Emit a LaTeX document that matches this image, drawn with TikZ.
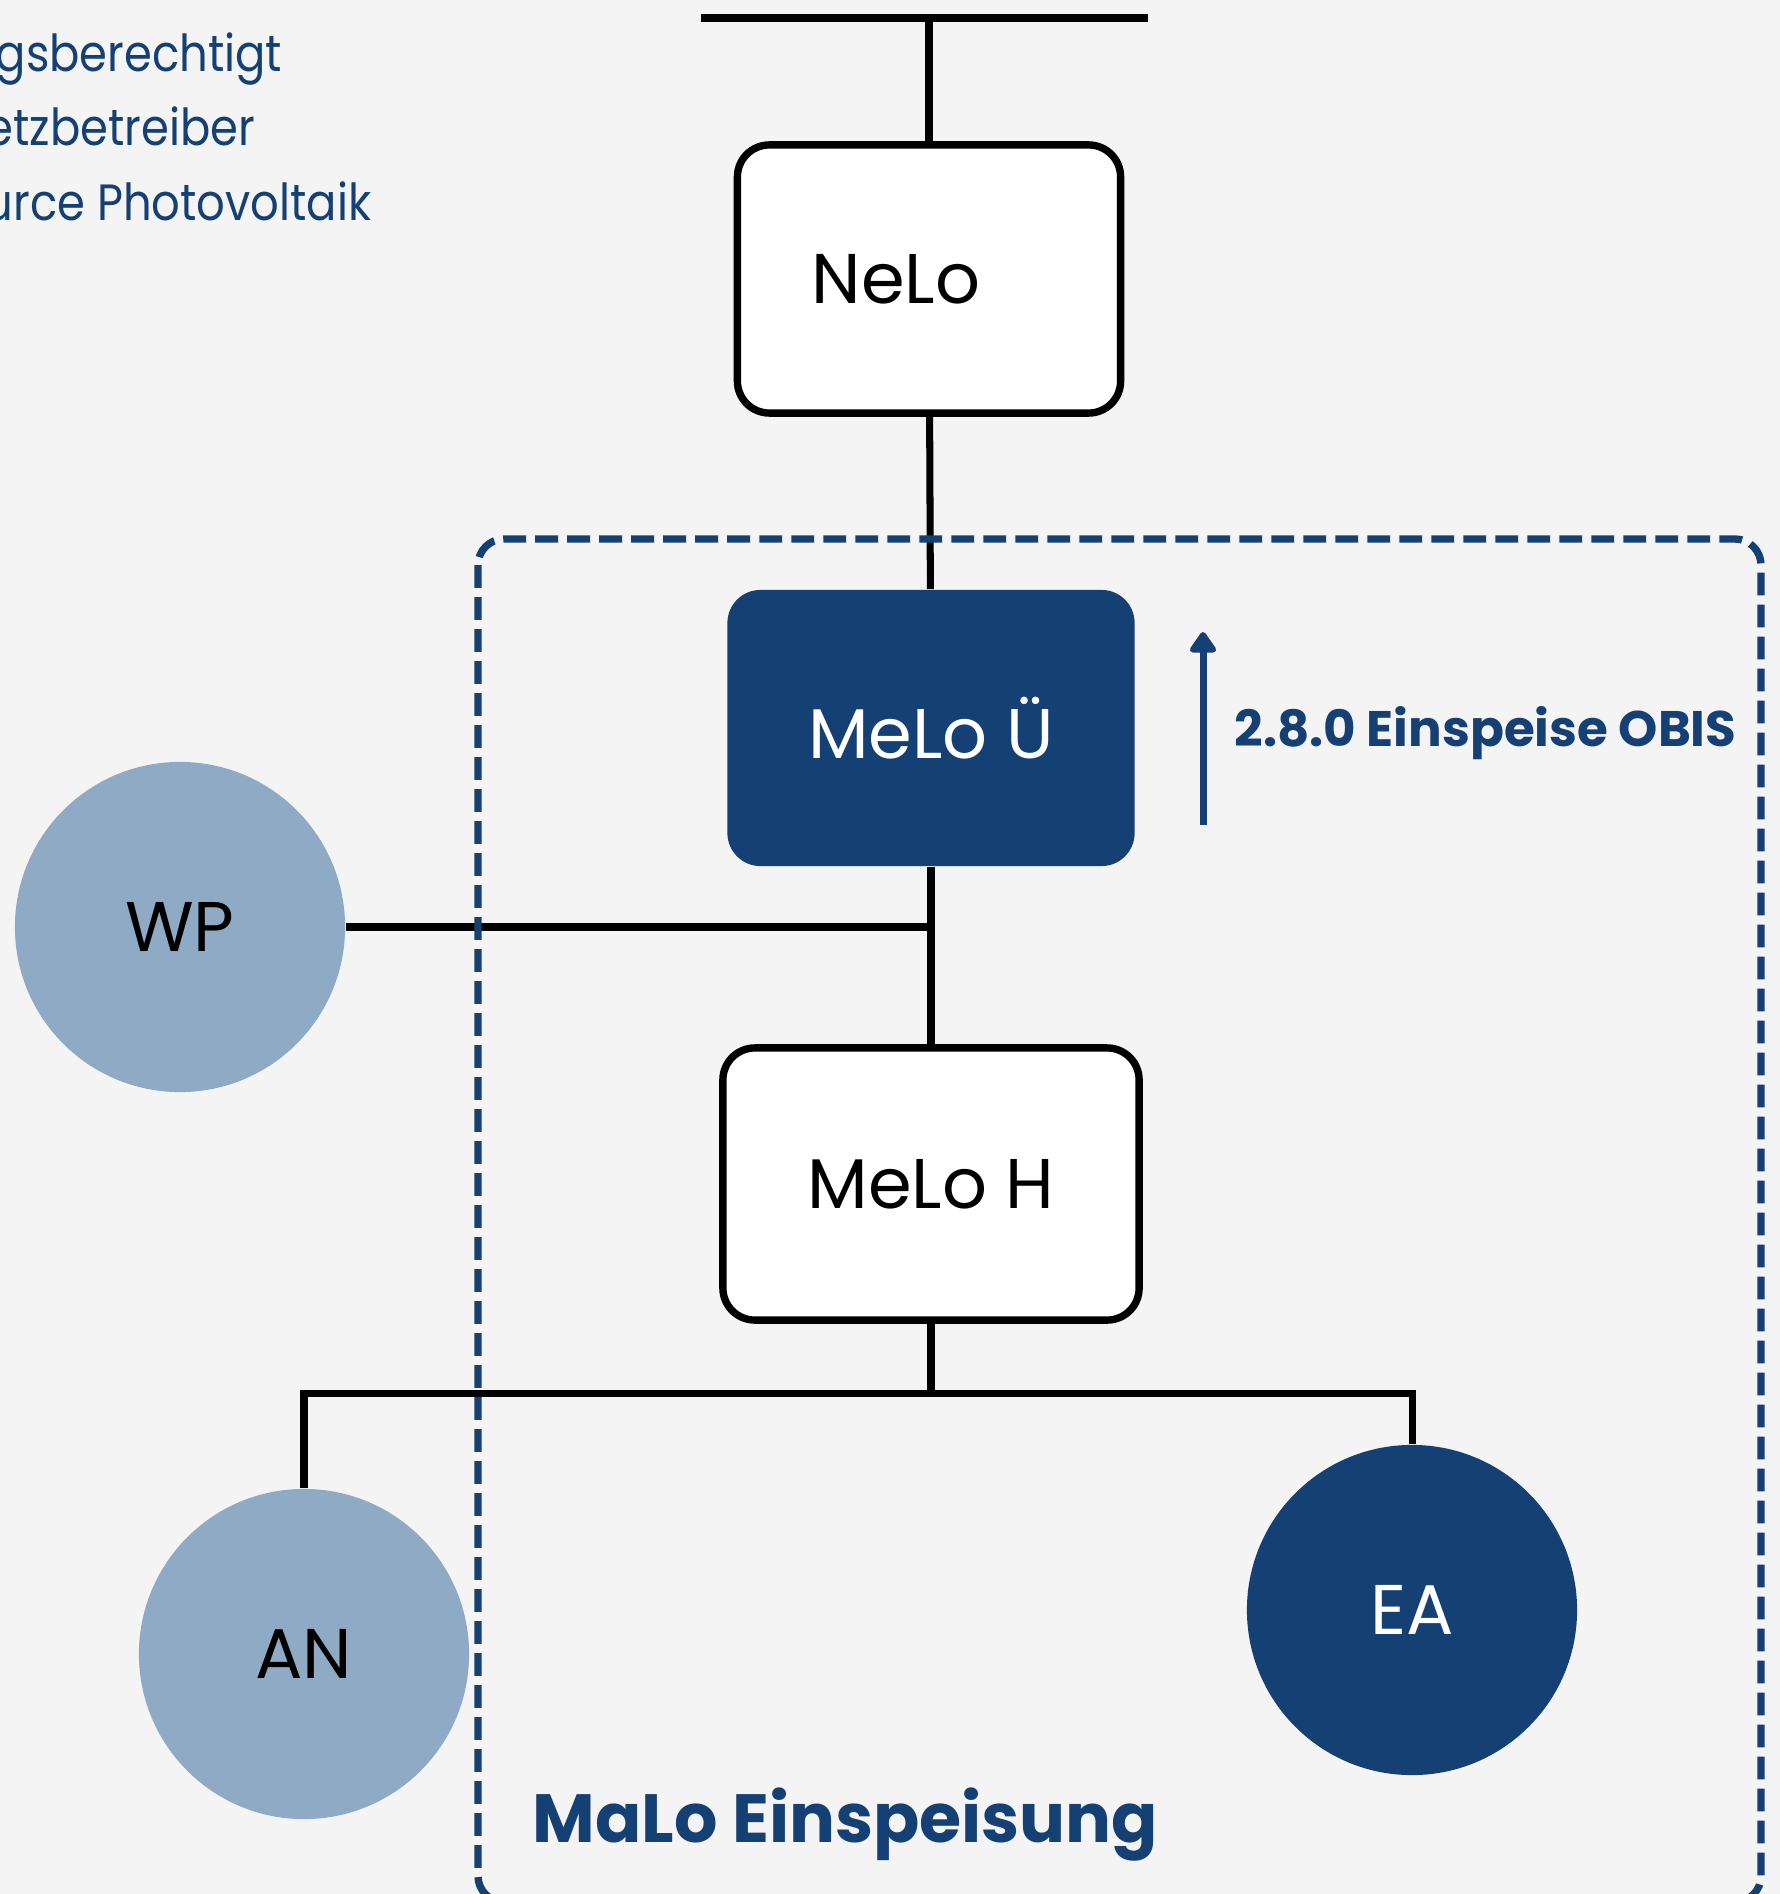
\documentclass[tikz,border=0pt]{standalone}
\usepackage{fontspec}
\setmainfont{Poppins}
\newfontfamily\legendfont{Poppins}[FakeStretch=0.88]
\usetikzlibrary{calc}
\usetikzlibrary{arrows.meta}

\definecolor{navy}{RGB}{21,64,115}
\definecolor{steel}{RGB}{142,170,197}
\definecolor{paper}{RGB}{244,244,244}

\begin{document}
\begin{tikzpicture}[
        x=0.01cm, y=-0.01cm,
        box/.style={draw,line width=2.1pt,fill=white,rounded corners=0.32cm,
            minimum width=4.16cm,minimum height=2.72cm,font=\fontsize{20}{24}\selectfont},
        meter/.style={fill=navy,text=white,rounded corners=0.33cm,
            minimum width=4.07cm,minimum height=2.76cm,font=\fontsize{20}{24}\selectfont},
        unit/.style={circle,minimum size=3.3cm,inner sep=0pt,font=\fontsize{20}{24}\selectfont},
        wire/.style={line width=2pt},
        legend/.style={anchor=base east,text=navy,inner sep=0pt,font=\legendfont\fontsize{14.5}{17}\selectfont},
        frame/.style={draw=navy,line width=2.1pt,dash pattern=on 6.5pt off 2.6pt,rounded corners=0.26cm},
        >={Triangle[round,width=8.5pt,length=6.5pt]}
    ]
        \useasboundingbox (0,0) rectangle (1780,1894);
        \clip (0,0) rectangle (1780,1894);
        \fill[paper] (0,0) rectangle (1780,1894);

        % legend, cut at the left edge
        \node[legend] (l1) at (283,72) {gsberechtigt};
        \node[legend] (l2) at (256,146) {etzbetreiber};
        \node[legend] (l3) at (372,221) {urce Photovoltaik};

        % grid connection
        \coordinate (gridL) at (701,18);
        \coordinate (gridR) at (1148,18);
        \draw[line width=2.3pt] (gridL) -- (gridR);

        \node[box,minimum width=3.83cm,minimum height=2.68cm] (nelo) at (929,279) {};
        \node (nelotxt) at ($(nelo)+(-33,0)$) [font=\fontsize{20}{24}\selectfont] {NeLo};
        \node[meter] (melou) at (931,728) {MeLo Ü};
        \node[box] (meloh) at (931,1184) {MeLo H};

        \node[unit,fill=steel] (wp) at (180,927) {WP};
        \node[unit,fill=steel] (an) at (304,1654) {AN};
        \node[unit,fill=navy,text=white] (ea) at (1412,1610) {EA};

        \coordinate (split) at (931,1393);

        \draw[wire] (nelo.north) -- (nelo.north |- gridL);
        \draw[wire] (nelo) -- (melou);
        \draw[wire] (melou) -- (meloh);
        \draw[wire] (wp.east) -- (wp.east -| melou.south);
        \draw[wire] (meloh.south) -- (split);
        \draw[wire] (an.north) |- (split) -| (ea.north);

        % feed-in register
        \coordinate (obisS) at (1203,825);
        \coordinate (obisE) at (1203,632);
        \draw[->,navy,line width=2pt] (obisS) -- (obisE);
        \node[anchor=base west,inner sep=0pt,text=navy,font=\bfseries\fontsize{14.2}{17}\selectfont]
            (obis) at (1234,746) {2.8.0 Einspeise OBIS};

        % market location
        \draw[frame] (478,539) rectangle (1761,1902);
        \node[anchor=base west,inner sep=0pt,text=navy,font=\bfseries\fontsize{19.4}{23}\selectfont]
            (malo) at (532,1842) {MaLo Einspeisung};
    \end{tikzpicture}
\end{document}
